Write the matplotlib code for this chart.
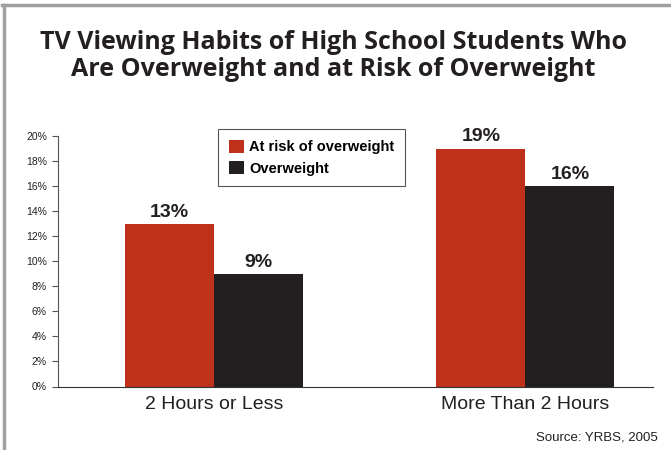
import matplotlib.pyplot as plt
import numpy as np
from matplotlib.lines import Line2D

categories = ["2 Hours or Less", "More Than 2 Hours"]
series_names = ["At risk of overweight", "Overweight"]
at_risk = [13, 19]
overweight = [9, 16]
yticks = [0, 2, 4, 6, 8, 10, 12, 14, 16, 18, 20]

red = "#c0311c"
black = "#231f20"

fig = plt.figure(figsize=(6.71, 4.5), dpi=100)
ax = fig.add_axes([58 / 671, 1 - 386.5 / 450, 595 / 671, 250.5 / 450])

x = np.arange(len(categories))
w = 0.286
b1 = ax.bar(x - w / 2, at_risk, w, color=red, label=series_names[0])
b2 = ax.bar(x + w / 2, overweight, w, color=black, label=series_names[1])

for bars, vals in [(b1, at_risk), (b2, overweight)]:
    for r, v in zip(bars, vals):
        ax.text(r.get_x() + r.get_width() / 2, v + 0.25, f"{v}%", ha="center", va="bottom",
                fontsize=14, fontweight="bold", family="Liberation Sans", color="#231f20")

ax.set_ylim(0, 20)
ax.set_xlim(-0.502, 1.41)
ax.set_yticks(yticks)
ax.set_yticklabels([f"{t}%" for t in yticks], fontsize=7.5, family="Liberation Sans", color="#231f20")
ax.set_xticks(x)
ax.set_xticklabels(categories, fontsize=14, family="Liberation Sans", color="#231f20")
ax.tick_params(axis="x", length=0, pad=7)
ax.tick_params(axis="y", length=4, width=0.8, color="#555555", pad=4)
for s in ["top", "right"]:
    ax.spines[s].set_visible(False)
ax.spines["left"].set_color("#555555")
ax.spines["bottom"].set_color("#333333")
ax.spines["left"].set_linewidth(0.8)
ax.spines["bottom"].set_linewidth(0.8)

leg = ax.legend(loc="upper left", bbox_to_anchor=(218 / 671, 1 - 129 / 450), bbox_transform=fig.transFigure,
                prop={"family": "Liberation Sans", "weight": "bold", "size": 10.5},
                fancybox=False, edgecolor="#555555", framealpha=1, handlelength=1.0, handleheight=1.0,
                handletextpad=0.4, borderpad=0.75, labelspacing=0.45, borderaxespad=0)
leg.get_frame().set_linewidth(0.8)

fig.text(0.497, 1 - 56 / 450, "TV Viewing Habits of High School Students Who\nAre Overweight and at Risk of Overweight",
         ha="center", va="center", fontsize=18, fontweight="bold", family="Open Sans",
         color="#231f20", linespacing=1.08)
fig.text(658 / 671, 1 - 437 / 450, "Source: YRBS, 2005", ha="right", va="center", fontsize=9.5,
         family="Liberation Sans", color="#231f20")

fig.add_artist(Line2D([3.5 / 671, 3.5 / 671], [0, 1 - 5 / 450], color="#a0a0a0", lw=2.5, transform=fig.transFigure))
fig.add_artist(Line2D([2 / 671, 1], [1 - 5 / 450, 1 - 5 / 450], color="#a0a0a0", lw=2.5, transform=fig.transFigure))

fig.savefig("out.png", dpi=100)
